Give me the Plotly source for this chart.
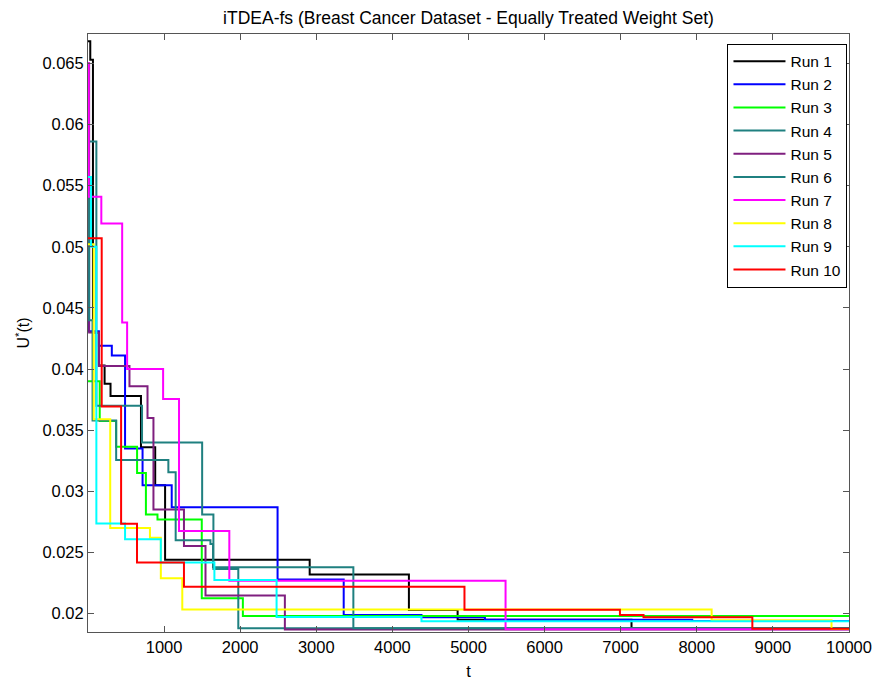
import plotly.graph_objects as go

# ---- data ----
run1_t = [0, 30, 65, 143, 218, 296, 696, 883, 1013, 2913, 4217, 4857, 7142, 10000]
run1_u = [0.0668, 0.0653, 0.0430, 0.0403, 0.0388, 0.0378, 0.0336, 0.0305, 0.0244, 0.0232, 0.0203, 0.0195, 0.0188, 0.0188]

run2_t = [0, 10, 143, 313, 487, 717, 1100, 2491, 3360, 4382, 5216, 7940, 10000]
run2_u = [0.0480, 0.0431, 0.0419, 0.0411, 0.0335, 0.0305, 0.0287, 0.0228, 0.0199, 0.0197, 0.0195, 0.0194, 0.0194]

run3_t = [0, 154, 370, 645, 761, 913, 1495, 2035, 10000]
run3_u = [0.0390, 0.03575, 0.03364, 0.0315, 0.0281, 0.0277, 0.02127, 0.0198, 0.0198]

run4_t = [0, 110, 710, 1500, 1648, 1975, 10000]
run4_u = [0.0586, 0.0370, 0.0340, 0.0281, 0.02365, 0.0188, 0.0188]

run5_t = [0, 15, 145, 545, 782, 860, 1261, 1544, 2587, 10000]
run5_u = [0.0650, 0.0430, 0.04026, 0.0386, 0.0360, 0.02851, 0.02554, 0.02148, 0.0187, 0.0187]

run6_t = [0, 15, 60, 370, 1056, 1152, 1609, 1643, 3487, 10000]
run6_u = [0.0545, 0.0440, 0.0358, 0.03256, 0.03156, 0.0260, 0.0257, 0.0238, 0.0188, 0.0188]

run7_t = [0, 10, 175, 449, 514, 987, 1196, 1857, 5487, 10000]
run7_u = [0.0650, 0.0541, 0.0519, 0.0438, 0.0400, 0.03756, 0.02675, 0.0227, 0.01873, 0.01873]

run8_t = [0, 75, 292, 814, 957, 1239, 8195, 9770, 10000]
run8_u = [0.0502, 0.0359, 0.0270, 0.0262, 0.0229, 0.02035, 0.01946, 0.01875, 0.01875]

run9_t = [0, 40, 110, 487, 957, 1661, 2478, 4382, 10000]
run9_u = [0.0557, 0.0500, 0.02737, 0.02608, 0.02419, 0.02276, 0.01973, 0.01938, 0.01938]

run10_t = [0, 180, 435, 644, 1261, 4947, 6990, 7300, 8730, 10000]
run10_u = [0.0507, 0.03694, 0.02735, 0.02419, 0.02221, 0.02032, 0.0199, 0.0197, 0.01876, 0.01876]

run_names = ["Run 1", "Run 2", "Run 3", "Run 4", "Run 5",
             "Run 6", "Run 7", "Run 8", "Run 9", "Run 10"]
run_colors = ["#000000", "#0000ff", "#00ff00", "#1f8080", "#7f1f7f",
              "#1f8080", "#ff00ff", "#ffff00", "#00ffff", "#ff0000"]

x_ticks = [1000, 2000, 3000, 4000, 5000, 6000, 7000, 8000, 9000, 10000]
y_ticks = [0.02, 0.025, 0.03, 0.035, 0.04, 0.045, 0.05, 0.055, 0.06, 0.065]
y_tick_text = ["0.02", "0.025", "0.03", "0.035", "0.04", "0.045", "0.05", "0.055", "0.06", "0.065"]

runs_t = [run1_t, run2_t, run3_t, run4_t, run5_t, run6_t, run7_t, run8_t, run9_t, run10_t]
runs_u = [run1_u, run2_u, run3_u, run4_u, run5_u, run6_u, run7_u, run8_u, run9_u, run10_u]

fig = go.Figure()
for name, col, t, u in zip(run_names, run_colors, runs_t, runs_u):
    fig.add_trace(go.Scatter(x=t, y=u, mode="lines", name=name,
                             line=dict(color=col, width=2, shape="hv")))

FONT = "Liberation Sans, Arial, sans-serif"
# page body has an 8px margin, so the figure is sized 8px smaller
fig.update_layout(
    width=876, height=681,
    margin=dict(l=80, r=31, t=26, b=51),
    paper_bgcolor="white", plot_bgcolor="white",
    font=dict(family=FONT, size=16, color="black"),
    title=dict(text="iTDEA-fs (Breast Cancer Dataset - Equally Treated Weight Set)",
               x=0.5, xref="paper", xanchor="center", y=0.985, yanchor="middle",
               font=dict(family=FONT, size=17.5, color="black")),
    showlegend=True,
    legend=dict(x=0.998, y=0.984, xanchor="right", yanchor="top",
                bgcolor="white", bordercolor="black", borderwidth=1,
                font=dict(family=FONT, size=15.5, color="black"),
                tracegroupgap=0, itemwidth=52),
)
fig.update_xaxes(range=[0, 10000], tickvals=x_ticks, ticktext=[str(v) for v in x_ticks],
                 ticks="inside", ticklen=6, tickcolor="#555", showline=True, linecolor="#555",
                 linewidth=1, mirror="ticks", showgrid=False, zeroline=False,
                 title=dict(text="t", standoff=10, font=dict(size=16.5)),
                 tickfont=dict(size=16.5))
fig.update_yaxes(range=[0.0185, 0.0674], tickvals=y_ticks, ticktext=y_tick_text,
                 ticks="inside", ticklen=6, tickcolor="#555", showline=True, linecolor="#555",
                 linewidth=1, mirror="ticks", showgrid=False, zeroline=False,
                 title=dict(text="U<sup>*</sup>(t)", standoff=8, font=dict(size=16)),
                 tickfont=dict(size=16.5))

fig.write_html("out.html")
